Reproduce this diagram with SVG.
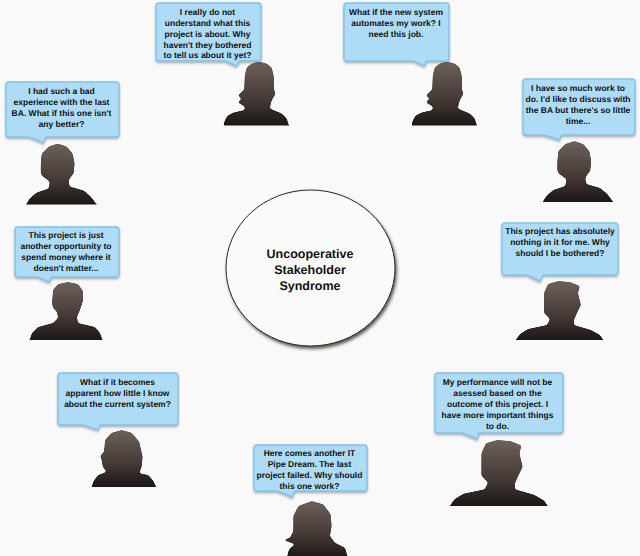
<svg xmlns="http://www.w3.org/2000/svg" width="640" height="556" viewBox="0 0 640 556">
<style>
.b{fill:#aedcf7;stroke:#82c2ea;stroke-width:1.4;filter:url(#bs)}
.t{font-family:"Liberation Sans",Arial,sans-serif;font-weight:700;font-size:8.500px;fill:#111;text-anchor:middle;text-rendering:geometricPrecision}
.c{font-size:12.500px}
.s{fill:url(#sg);filter:url(#soft)}
</style>
<defs>
<linearGradient id="sg" x1="0" y1="0" x2="0" y2="1"><stop offset="0" stop-color="#6e615b"/><stop offset=".55" stop-color="#453a36"/><stop offset="1" stop-color="#171110"/></linearGradient>
<filter id="soft" x="-10%" y="-10%" width="120%" height="120%"><feGaussianBlur stdDeviation="1.100"/><feColorMatrix type="matrix" values="1 0 0 0 0 0 1 0 0 0 0 0 1 0 0 0 0 0 5 -2"/><feGaussianBlur stdDeviation=".25"/></filter>
<filter id="bs" x="-10%" y="-10%" width="120%" height="130%"><feDropShadow dx="0" dy="1.500" stdDeviation="1.200" flood-color="#555" flood-opacity=".45"/></filter>
<filter id="cs" x="-10%" y="-10%" width="125%" height="125%"><feDropShadow dx="1.500" dy="2.500" stdDeviation="1.600" flood-color="#3a2e28" flood-opacity=".8"/></filter>
<clipPath id="c1"><rect width="640" height="125.500"/></clipPath>
<clipPath id="c3"><rect width="640" height="204.500"/></clipPath>
<clipPath id="c4"><rect width="640" height="202"/></clipPath>
<clipPath id="c5"><rect width="640" height="340"/></clipPath>
<clipPath id="c7"><rect width="640" height="487"/></clipPath>
<clipPath id="c8"><rect width="640" height="506"/></clipPath>
<path id="w1" d="M-2,4 L0,-5 L3,-10 L9,-13 L20,-15.500 L20,-19 L13,-23 L17,-27 L13,-30 L19.500,-36 L20,-50 L22,-58 L27,-62 L34,-64 L42,-62 L47,-58 L49,-50 L49.500,-35 L51,-32 L47,-25 L45,-17 L57,-12 L62,-7 L65.500,4 Z"/>
<path id="m1" d="M-3,4 L3,-6 L10,-12 L22,-16 L23,-23 L16,-28 L14,-31 L14,-41 L15,-51 L22,-58 L31,-61 L40,-58 L46,-51 L48,-41 L47,-31 L43,-26 L42,-23 L43,-18 L57,-14 L64,-8 L73,4 Z"/>
<path id="m2" d="M-2,4 L2,-7 L8,-13 L23,-17 L28,-22 L27,-28 L23,-32 L22,-37 L23,-50 L28,-56 L38,-58 L48,-56 L53,-49 L53,-39 L50,-30 L47,-23 L48,-17 L65,-13 L70,-7 L74,4 Z"/>
<path id="m3" d="M-3,4 L4,-6 L12,-11 L31,-15 L34,-21 L28,-27 L28,-35 L28,-47 L32,-56 L42,-59 L54,-58 L64,-54 L62,-47 L65,-35 L61,-27 L58,-20 L58,-15 L75,-10 L84,-5 L90,4 Z"/>
</defs>
<rect width="640" height="556" fill="#faf9f9"/>
<g id="connectors"/>
<g id="centre">
<ellipse cx="310.500" cy="268" rx="84.500" ry="78" fill="#fbfafa" stroke="#2b2522" stroke-width="1" filter="url(#cs)"/>
<text class="t c" x="310" y="258">Uncooperative</text>
<text class="t c" x="310" y="274">Stakeholder</text>
<text class="t c" x="310" y="289.500">Syndrome</text>
</g>
<g id="person-1">
<g clip-path="url(#c1)"><use class="s" href="#w1" x="224.700" y="125.500"/></g>
<path class="b" d="M159,3H258Q261,3 261,6V58Q261,61 258,61H240L236,66Q231,63 225,61H159Q156,61 156,58V6Q156,3 159,3Z"/>
<text class="t" x="207.500" y="14.500">I really do not</text>
<text class="t" x="207.500" y="25.500">understand what this</text>
<text class="t" x="207.500" y="36.500">project is about. Why</text>
<text class="t" x="207.500" y="47.500">haven't they bothered</text>
<text class="t" x="207.500" y="58">to tell us about it yet?</text>
</g>
<g id="person-2">
<g clip-path="url(#c1)"><use class="s" href="#w1" x="412.700" y="125.500"/></g>
<path class="b" d="M347,3H446Q449,3 449,6V58Q449,61 446,61H427L424,66Q419,63 413,61H347Q344,61 344,58V6Q344,3 347,3Z"/>
<text class="t" x="396" y="14.500">What if the new system</text>
<text class="t" x="396" y="25.500">automates my work? I</text>
<text class="t" x="396" y="36.500">need this job.</text>
</g>
<g id="person-3">
<g clip-path="url(#c3)"><use class="s" href="#m1" x="26.700" y="204.500"/></g>
<path class="b" d="M9,82H116Q119,82 119,85V134Q119,137 116,137H46L43,143Q37,139 28,137H9Q6,137 6,134V85Q6,82 9,82Z"/>
<text class="t" x="61.500" y="94">I had such a bad</text>
<text class="t" x="61.500" y="105">experience with the last</text>
<text class="t" x="61.500" y="115.500">BA. What if this one isn't</text>
<text class="t" x="61.500" y="126.500">any better?</text>
</g>
<g id="person-4">
<g clip-path="url(#c4)"><use class="s" href="#m1" x="543.300" y="202"/></g>
<path class="b" d="M526,79H632Q635,79 635,82V132Q635,135 632,135H562L559,140Q552,137 543,135H526Q523,135 523,132V82Q523,79 526,79Z"/>
<text class="t" x="578" y="91">I have so much work to</text>
<text class="t" x="578" y="102">do. I'd like to discuss with</text>
<text class="t" x="578" y="113">the BA but there's so little</text>
<text class="t" x="578" y="124">time...</text>
</g>
<g id="person-5">
<g clip-path="url(#c5)"><use class="s" href="#m2" x="30" y="340"/></g>
<path class="b" d="M18,227H116Q119,227 119,230V274Q119,277 116,277H52L49,282Q43,279 37,277H18Q15,277 15,274V230Q15,227 18,227Z"/>
<text class="t" x="66" y="238">This project is just</text>
<text class="t" x="66" y="249">another opportunity to</text>
<text class="t" x="66" y="260">spend money where it</text>
<text class="t" x="66" y="271">doesn't matter...</text>
</g>
<g id="person-6">
<g clip-path="url(#c5)"><use class="s" href="#m3" x="516" y="340"/></g>
<path class="b" d="M505,223H615Q618,223 618,226V272Q618,275 615,275H543L540,281Q533,278 527,275H505Q502,275 502,272V226Q502,223 505,223Z"/>
<text class="t" x="560" y="234">This project has absolutely</text>
<text class="t" x="560" y="245">nothing in it for me. Why</text>
<text class="t" x="560" y="256">should I be bothered?</text>
</g>
<g id="person-7">
<g clip-path="url(#c7)"><path class="s" d="M90,491 L94,480.300 L98.300,475 L106.700,471.700 L102.700,466.700 L101.700,460 L100,456 L104,451.700 L105,440 L111.700,432.700 L121.700,430 L131.700,432.700 L139.300,441.700 L142.700,456.700 L141.700,466.700 L139.300,473.300 L148.300,475 L153.300,480.700 L158,491 Z"/></g>
<path class="b" d="M61,373H175Q178,373 178,376V422Q178,425 175,425H100L98,430Q92,428 83,425H61Q58,425 58,422V376Q58,373 61,373Z"/>
<text class="t" x="117.500" y="385">What if it becomes</text>
<text class="t" x="117.500" y="396">apparent how little I know</text>
<text class="t" x="117.500" y="407">about the current system?</text>
</g>
<g id="person-8">
<g clip-path="url(#c8)"><use class="s" href="#m3" transform="translate(450 506) scale(1.120)"/></g>
<path class="b" d="M438,373H560Q563,373 563,376V430Q563,433 560,433H479L477,439Q470,436 462,433H438Q435,433 435,430V376Q435,373 438,373Z"/>
<text class="t" x="497.500" y="385">My performance will not be</text>
<text class="t" x="497.500" y="396">asessed based on the</text>
<text class="t" x="497.500" y="407">outcome of this project. I</text>
<text class="t" x="497.500" y="418">have more important things</text>
<text class="t" x="497.500" y="429">to do.</text>
</g>
<g id="person-9">
<path class="s" d="M285.700,562 L289,549.300 L295,544.300 L283,540 L290,537.700 L293.300,531 L293.300,516 L298.300,506 L311.700,501 L323.300,504.300 L330.700,514.300 L331.700,526 L330,536 L335,542.700 L345,547.700 L349.300,562 Z"/>
<path class="b" d="M257,445H364Q367,445 367,448V488Q367,491 364,491H295L292,497Q286,494 277,491H257Q254,491 254,488V448Q254,445 257,445Z"/>
<text class="t" x="309.500" y="456">Here comes another IT</text>
<text class="t" x="309.500" y="467">Pipe Dream. The last</text>
<text class="t" x="309.500" y="478">project failed. Why should</text>
<text class="t" x="309.500" y="489">this one work?</text>
</g>
</svg>
